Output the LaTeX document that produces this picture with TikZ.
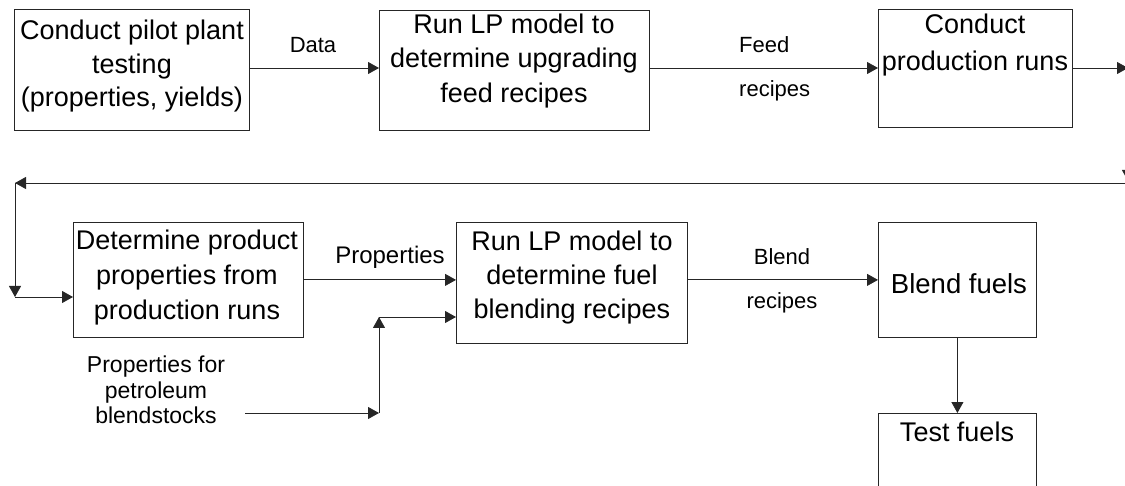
\documentclass[tikz,border=0pt]{standalone}
\usepackage{fontspec}
\setmainfont{Liberation Sans}
\usetikzlibrary{arrows.meta}
\begin{document}
\begin{tikzpicture}[x=1pt,y=-1pt,
  box/.style={draw=black!85, line width=0.8pt, anchor=north west, inner sep=0pt},
  btxt/.style={font=\fontsize{27}{34}\selectfont, align=center, inner sep=0pt},
  lbl/.style={font=\fontsize{22}{26}\selectfont, inner sep=0pt},
  arr/.style={draw=black!85, line width=0.8pt, -{Triangle[length=11pt,width=12pt]}}]
\useasboundingbox (0,0) rectangle (1125,486);
% boxes
\node[box, minimum width=235pt, minimum height=121pt] (b1) at (14,9) {};
\node[box, minimum width=270pt, minimum height=120pt] (b2) at (379,10) {};
\node[box, minimum width=194pt, minimum height=118pt] (b3) at (878,9) {};
\node[box, minimum width=230pt, minimum height=115pt] (b4) at (73,222) {};
\node[box, minimum width=231pt, minimum height=121pt] (b5) at (456,222) {};
\node[box, minimum width=158pt, minimum height=115pt] (b6) at (878,222) {};
\node[box, minimum width=158pt, minimum height=110pt] (b7) at (878,413) {};
% box texts
\node[btxt, anchor=north, font=\fontsize{27}{33.5}\selectfont] (t1) at (132,20) {Conduct pilot plant\\testing\\(properties, yields)};
\node[btxt, anchor=north, font=\fontsize{27}{34.5}\selectfont] (t2) at (514,13.5) {Run LP model to\\determine upgrading\\feed recipes};
\node[btxt, anchor=north, font=\fontsize{27}{37}\selectfont] (t3) at (975,14) {Conduct\\production runs};
\node[btxt, anchor=north, font=\fontsize{27}{35}\selectfont] (t4) at (187,230) {Determine product\\properties from\\production runs};
\node[btxt, anchor=north, font=\fontsize{27}{34}\selectfont] (t5) at (572,231) {Run LP model to\\determine fuel\\blending recipes};
\node[btxt, anchor=base, font=\fontsize{27.5}{30}\selectfont] (t6) at (959,294) {Blend fuels};
\node[btxt, anchor=base] (t7) at (957,441) {Test fuels};
% labels
\node[lbl, anchor=base] (l1) at (313,53) {Data};
\node[lbl, anchor=north west, align=left, font=\fontsize{22}{44}\selectfont] (l2) at (739,36) {Feed\\recipes};
\node[lbl, anchor=base, font=\fontsize{24}{28}\selectfont] (l3) at (390,264) {Properties};
\node[lbl, anchor=north, align=center, font=\fontsize{22}{44}\selectfont] (l4) at (782,248) {Blend\\recipes};
\node[lbl, anchor=north, align=center, font=\fontsize{23}{25.5}\selectfont] (l5) at (156,356) {Properties for\\petroleum\\blendstocks};
% coordinates
\coordinate (r1) at (1128,68);
\coordinate (r2) at (1128,181);
\coordinate (r3) at (1126,183);
\coordinate (c1) at (15,183);
\coordinate (c2) at (15,297);
\coordinate (p0) at (245,413);
\coordinate (j1) at (379,413);
\coordinate (j2) at (379,317);
% connectors
\draw[arr] (b1.east |- r1) -- (b2.west |- r1);
\draw[arr] (b2.east |- r1) -- (b3.west |- r1);
\draw[arr] (b3.east |- r1) -- (r1);
\draw[arr] (r1) -- (r2);
\draw[arr] (r3) -- (c1);
\draw[arr] (c1) -- (c2);
\draw[arr] (c2) -- (c2 -| b4.west);
\draw[arr] (b4.east) -- (b4.east -| b5.west);
\draw[arr] (b6.west -| b5.east) -- (b6.west);
\draw[arr] (p0) -- (j1);
\draw[arr] (j1) -- (j2);
\draw[arr] (j2) -- (j2 -| b5.west);
\draw[arr] (b6.south) -- (b7.north);
\end{tikzpicture}
\end{document}
